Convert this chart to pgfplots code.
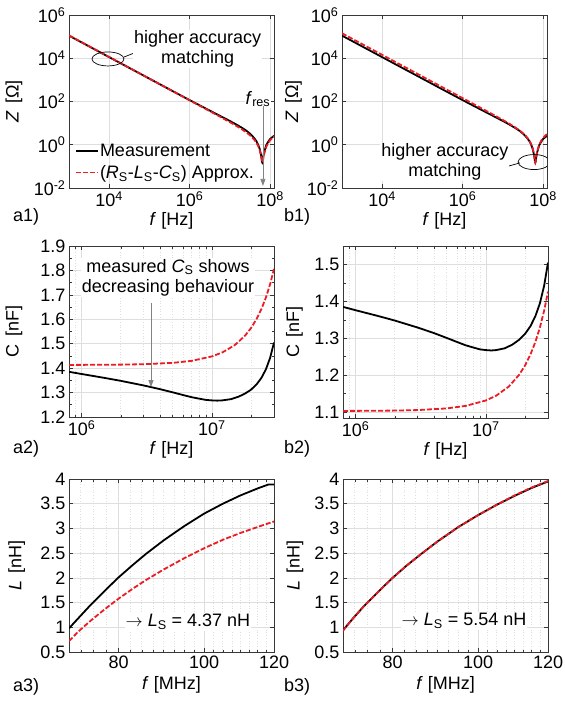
\documentclass[border=0pt]{standalone}
\usepackage{fontspec}
\setmainfont{Liberation Sans}
\usepackage{pgfplots}
\pgfplotsset{compat=1.18}
\usetikzlibrary{arrows.meta}
\definecolor{myred}{RGB}{236,28,36}
\definecolor{gridcol}{RGB}{222,222,222}
\definecolor{axcol}{RGB}{55,55,55}
\definecolor{arrgray}{RGB}{130,130,130}

\pgfplotsset{every axis/.append style={
    scale only axis, width=205bp, anchor=north west,
    font=\fontsize{18bp}{21bp}\selectfont,
    axis line style={axcol, line width=0.7bp},
    every tick/.style={axcol, line width=0.6bp},
    major tick length=4bp, minor tick length=2.5bp,
    xmajorgrids, ymajorgrids,
    major grid style={gridcol, line width=0.7bp},
    minor grid style={gridcol, line width=0.7bp, dotted},
    every axis x label/.style={at={(axis description cs:0.5,-0.19)}, anchor=center},
  }}
\tikzset{
  meas/.style={black, line width=1.8bp},
  appr/.style={myred, line width=1.8bp, dash pattern=on 5bp off 2bp},
  ann/.style={font=\fontsize{18bp}{20bp}\selectfont, fill=white, inner sep=1bp, align=center},
}

\begin{document}
\begin{tikzpicture}
\path[use as bounding box] (0,0) rectangle (565bp,-704bp);

% ---------------- a1 ----------------
\begin{axis}[at={(69bp,-15bp)}, height=173bp,
  xmode=log, ymode=log, xmin=1e3, xmax=1.25e8, ymin=1e-2, ymax=1e6,
  xtick={1e4,1e6,1e8}, xticklabels={10\textsuperscript{4},10\textsuperscript{6},10\textsuperscript{8}},
  ytick={1e-2,1,1e2,1e4,1e6},
  yticklabels={10\textsuperscript{-2},10\textsuperscript{0},10\textsuperscript{2},10\textsuperscript{4},10\textsuperscript{6}},
  xlabel={\textit{f} [Hz]}, ylabel={\textit{Z}\hspace{0.15em} [Ω]},
  every axis y label/.style={at={(axis description cs:-0.268,0.5)}, anchor=center, rotate=90},
  legend style={draw=none, fill=none, at={(axis description cs:0,0)}, anchor=south west,
    xshift=6bp, yshift=7bp, inner sep=0pt, row sep=5bp, nodes={inner sep=1bp},
    font=\fontsize{18bp}{20bp}\selectfont},
  legend cell align=left,
  legend image code/.code={\draw[#1] (0bp,0bp) -- (22bp,0bp);}]
\addplot[meas] coordinates {(1e3,1.113e5) (1e4,1.121e4) (1e5,1137) (3e5,380.3) (1e6,115.7) (3e6,39.92) (5e6,24.47) (1e7,12.55) (1.5e7,8.30) (2e7,6.066) (2.5e7,4.62) (3e7,3.55) (3.5e7,2.72) (4e7,2.05) (4.5e7,1.52) (5e7,1.05) (5.5e7,0.65) (6e7,0.31) (6.2e7,0.20) (6.3e7,0.16) (6.4e7,0.15) (6.5e7,0.16) (6.7e7,0.24) (7e7,0.40) (8e7,0.95) (9e7,1.40) (1e8,1.85) (1.25e8,2.6)};
\addplot[appr] coordinates {(1e3,1.137e5) (1e4,1.137e4) (1e5,1137) (1e6,113.7) (5e6,22.6) (1e7,11.09) (1.5e7,7.167) (2e7,5.135) (2.5e7,3.861) (3e7,2.966) (3.5e7,2.287) (4e7,1.744) (4.5e7,1.299) (5e7,0.913) (5.5e7,0.577) (6e7,0.290) (6.2e7,0.200) (6.3e7,0.168) (6.43e7,0.15) (6.5e7,0.154) (6.7e7,0.207) (7e7,0.334) (8e7,0.790) (9e7,1.217) (1e8,1.616) (1.25e8,2.52)};
\legend{Measurement, (\textit{R}\textsubscript{S}-\textit{L}\textsubscript{S}-\textit{C}\textsubscript{S}) Approx.}
\draw[line width=0.7bp] (rel axis cs:0.190,0.746) ellipse [x radius=16bp, y radius=7bp];
\draw[line width=0.7bp, -{Stealth[length=5bp,width=4bp]}] (rel axis cs:0.268,0.757) -- (rel axis cs:0.356,0.798);
\node[ann] at (rel axis cs:0.627,0.803) {higher accuracy\\matching};
\node[ann] at (rel axis cs:0.922,0.514) {\textit{f}\textsubscript{res}};
\draw[arrgray, line width=0.8bp, -{Triangle[length=7bp,width=5bp]}] (rel axis cs:0.946,0.474) -- (rel axis cs:0.946,0.012);
\end{axis}

% ---------------- b1 ----------------
\begin{axis}[at={(342bp,-15bp)}, height=173bp,
  xmode=log, ymode=log, xmin=1e3, xmax=1.25e8, ymin=1e-2, ymax=1e6,
  xtick={1e4,1e6,1e8}, xticklabels={10\textsuperscript{4},10\textsuperscript{6},10\textsuperscript{8}},
  ytick={1e-2,1,1e2,1e4,1e6},
  yticklabels={10\textsuperscript{-2},10\textsuperscript{0},10\textsuperscript{2},10\textsuperscript{4},10\textsuperscript{6}},
  xlabel={\textit{f} [Hz]}, ylabel={\textit{Z}\hspace{0.15em} [Ω]},
  every axis y label/.style={at={(axis description cs:-0.237,0.5)}, anchor=center, rotate=90}]
\addplot[meas] coordinates {(1e3,1.113e5) (1e4,1.121e4) (1e5,1137) (3e5,380.3) (1e6,115.7) (3e6,39.92) (5e6,24.47) (1e7,12.55) (1.5e7,8.30) (2e7,6.066) (2.5e7,4.62) (3e7,3.55) (3.5e7,2.72) (4e7,2.05) (4.5e7,1.52) (5e7,1.05) (5.5e7,0.65) (6e7,0.31) (6.2e7,0.20) (6.3e7,0.16) (6.4e7,0.15) (6.5e7,0.16) (6.7e7,0.24) (7e7,0.40) (8e7,0.95) (9e7,1.40) (1e8,1.85) (1.25e8,2.6)};
\addplot[appr] coordinates {(1e3,1.427e5) (1e4,1.427e4) (1e5,1427) (1e6,142.7) (5e6,28.37) (1e7,13.93) (1.5e7,8.994) (2e7,6.441) (2.5e7,4.839) (3e7,3.714) (3.5e7,2.860) (4e7,2.176) (4.5e7,1.613) (5e7,1.125) (5.5e7,0.697) (6e7,0.3265) (6.2e7,0.208) (6.3e7,0.167) (6.4e7,0.15) (6.5e7,0.164) (6.7e7,0.2516) (7e7,0.425) (8e7,1.012) (9e7,1.554) (1e8,2.059) (1.25e8,3.21)};
\draw[line width=0.7bp] (rel axis cs:0.937,0.150) ellipse [x radius=16bp, y radius=7.5bp];
\draw[line width=0.7bp, -{Stealth[length=5bp,width=4bp]}] (rel axis cs:0.868,0.145) -- (rel axis cs:0.780,0.116);
\node[ann] at (rel axis cs:0.502,0.150) {higher accuracy\\matching};
\end{axis}

% ---------------- a2 ----------------
\begin{axis}[at={(69bp,-246bp)}, height=171bp,
  xmode=log, xmin=8e5, xmax=3e7,
  xtick={1e6,1e7}, xticklabels={10\textsuperscript{6},10\textsuperscript{7}},
  minor xtick={9e5,2e6,3e6,4e6,5e6,6e6,7e6,8e6,9e6,2e7,3e7}, xminorgrids,
  ymin=1.2, ymax=1.9, ytick={1.2,1.3,1.4,1.5,1.6,1.7,1.8,1.9},
  yticklabels={1.2,1.3,1.4,1.5,1.6,1.7,1.8,1.9},
  minor ytick={1.25,1.35,1.45,1.55,1.65,1.75,1.85},
  xlabel={\textit{f} [Hz]}, ylabel={C\hspace{0.15em} [nF]},
  every axis y label/.style={at={(axis description cs:-0.268,0.5)}, anchor=center, rotate=90}]
\addplot[meas] coordinates {(8e5,1.385) (1e6,1.376) (1.5e6,1.360) (2e6,1.348) (3e6,1.329) (4e6,1.314) (5e6,1.301) (6e6,1.290) (7e6,1.281) (8e6,1.275) (9e6,1.270) (1e7,1.268) (1.1e7,1.267) (1.2e7,1.268) (1.4e7,1.273) (1.6e7,1.283) (1.8e7,1.296) (2e7,1.312) (2.2e7,1.333) (2.4e7,1.360) (2.6e7,1.395) (2.8e7,1.442) (3e7,1.505)};
\addplot[appr] coordinates {(8e5,1.4132) (1e6,1.4134) (2e6,1.4144) (3e6,1.4161) (5e6,1.4216) (7e6,1.4299) (1e7,1.448) (1.2e7,1.4640) (1.5e7,1.4943) (1.8e7,1.5332) (2e7,1.5644) (2.2e7,1.6004) (2.4e7,1.6417) (2.6e7,1.6892) (2.8e7,1.7436) (3e7,1.8064)};
\node[ann] at (rel axis cs:0.483,0.816) {measured \textit{C}\textsubscript{S} shows\\decreasing behaviour};
\draw[arrgray, line width=0.8bp, -{Triangle[length=7bp,width=5bp]}] (rel axis cs:0.4,0.667) -- (rel axis cs:0.4,0.175);
\end{axis}

% ---------------- b2 ----------------
\begin{axis}[at={(343bp,-246bp)}, height=172bp,
  xmode=log, xmin=8e5, xmax=3e7,
  xtick={1e6,1e7}, xticklabels={10\textsuperscript{6},10\textsuperscript{7}},
  minor xtick={9e5,2e6,3e6,4e6,5e6,6e6,7e6,8e6,9e6,2e7,3e7}, xminorgrids,
  ymin=1.084, ymax=1.55, ytick={1.1,1.2,1.3,1.4,1.5},
  yticklabels={1.1,1.2,1.3,1.4,1.5},
  minor ytick={1.15,1.25,1.35,1.45,1.55},
  xlabel={\textit{f} [Hz]}, ylabel={C\hspace{0.15em} [nF]},
  every axis y label/.style={at={(axis description cs:-0.237,0.5)}, anchor=center, rotate=90}]
\addplot[meas] coordinates {(8e5,1.385) (1e6,1.376) (1.5e6,1.360) (2e6,1.348) (3e6,1.329) (4e6,1.314) (5e6,1.301) (6e6,1.290) (7e6,1.281) (8e6,1.275) (9e6,1.270) (1e7,1.268) (1.1e7,1.267) (1.2e7,1.268) (1.4e7,1.273) (1.6e7,1.283) (1.8e7,1.296) (2e7,1.312) (2.2e7,1.333) (2.4e7,1.360) (2.6e7,1.395) (2.8e7,1.442) (3e7,1.505)};
\addplot[appr] coordinates {(8e5,1.1032) (1e6,1.1033) (2e6,1.1041) (3e6,1.1055) (5e6,1.1100) (7e6,1.1168) (1e7,1.1315) (1.2e7,1.1445) (1.5e7,1.1693) (1.8e7,1.2010) (2e7,1.2266) (2.2e7,1.2562) (2.4e7,1.2902) (2.6e7,1.3294) (2.8e7,1.3745) (3e7,1.4265)};
\end{axis}

% ---------------- a3 ----------------
\begin{axis}[at={(69bp,-479bp)}, height=173bp,
  xmode=log, xmin=70.3, xmax=120, ymin=0.5, ymax=4,
  xtick={80,100,120}, xticklabels={80,100,120},
  minor xtick={72.5,75,77.5,82.5,85,87.5,90,92.5,95,97.5,102.5,105,107.5,110,112.5,115,117.5}, xminorgrids,
  ytick={0.5,1,1.5,2,2.5,3,3.5,4}, yticklabels={0.5,1,1.5,2,2.5,3,3.5,4},
  xlabel={\textit{f} [MHz]}, ylabel={\textit{L}\hspace{0.15em} [nH]},
  every axis y label/.style={at={(axis description cs:-0.255,0.5)}, anchor=center, rotate=90}]
\addplot[meas] coordinates {(70.3,0.98) (72,1.18) (74,1.41) (76,1.62) (78,1.82) (80,2.01) (83,2.26) (86,2.49) (90,2.76) (95,3.05) (100,3.30) (105,3.50) (110,3.67) (115,3.81) (118.3,3.89) (120,3.89)};
\addplot[appr] coordinates {(70.3,0.72) (72,0.91) (74,1.10) (76,1.27) (78,1.43) (80,1.58) (83,1.78) (86,1.96) (90,2.17) (95,2.40) (100,2.60) (105,2.77) (110,2.91) (115,3.03) (120,3.14)};
\node[ann] at (rel axis cs:0.580,0.173) {$\rightarrow$ \textit{L}\textsubscript{S} = 4.37 nH};
\end{axis}

% ---------------- b3 ----------------
\begin{axis}[at={(343bp,-479bp)}, height=173bp,
  xmode=log, xmin=70.3, xmax=120, ymin=0.5, ymax=4,
  xtick={80,100,120}, xticklabels={80,100,120},
  minor xtick={72.5,75,77.5,82.5,85,87.5,90,92.5,95,97.5,102.5,105,107.5,110,112.5,115,117.5}, xminorgrids,
  ytick={0.5,1,1.5,2,2.5,3,3.5,4}, yticklabels={0.5,1,1.5,2,2.5,3,3.5,4},
  xlabel={\textit{f} [MHz]}, ylabel={\textit{L}\hspace{0.15em} [nH]},
  every axis y label/.style={at={(axis description cs:-0.234,0.5)}, anchor=center, rotate=90}]
\addplot[meas] coordinates {(70.3,0.94) (72,1.16) (74,1.40) (76,1.61) (78,1.81) (80,2.00) (83,2.25) (86,2.47) (90,2.74) (95,3.03) (100,3.27) (105,3.48) (110,3.66) (115,3.82) (120,3.95)};
\addplot[appr] coordinates {(70.3,0.93) (72,1.16) (74,1.40) (76,1.61) (78,1.81) (80,2.00) (83,2.25) (86,2.47) (90,2.74) (95,3.03) (100,3.27) (105,3.48) (110,3.67) (115,3.83) (120,3.96)};
\node[ann] at (rel axis cs:0.590,0.179) {$\rightarrow$ \textit{L}\textsubscript{S} = 5.54 nH};
\end{axis}

% panel labels
\begin{scope}[every node/.style={font=\fontsize{18bp}{20bp}\selectfont, anchor=west, inner sep=0pt}]
\node at (13bp,-217bp) {a1)};
\node at (284bp,-217bp) {b1)};
\node at (13bp,-449bp) {a2)};
\node at (284bp,-449bp) {b2)};
\node at (13bp,-687bp) {a3)};
\node at (284bp,-687bp) {b3)};
\end{scope}
\end{tikzpicture}
\end{document}
